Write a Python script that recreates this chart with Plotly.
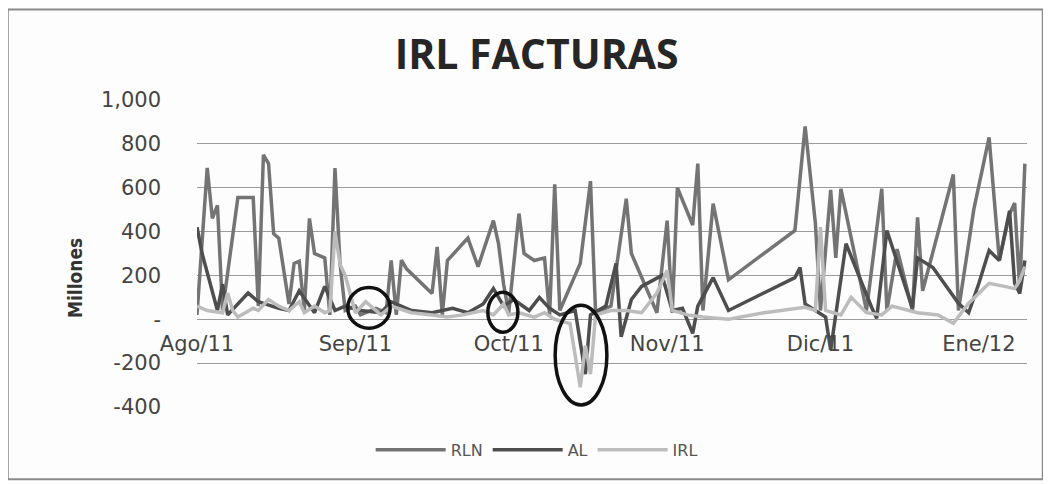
import plotly.graph_objects as go

# ---------------- data (values in millones) ----------------
rln_dates = ["2011-08-01", "2011-08-03", "2011-08-04", "2011-08-05", "2011-08-06", "2011-08-09",
             "2011-08-12", "2011-08-13", "2011-08-14", "2011-08-15", "2011-08-16", "2011-08-17",
             "2011-08-19", "2011-08-20", "2011-08-21", "2011-08-22", "2011-08-23", "2011-08-24",
             "2011-08-26", "2011-08-27", "2011-08-28", "2011-08-29", "2011-08-30", "2011-09-01",
             "2011-09-02", "2011-09-05", "2011-09-07", "2011-09-08", "2011-09-09", "2011-09-10",
             "2011-09-11", "2011-09-16", "2011-09-17", "2011-09-18", "2011-09-19", "2011-09-23",
             "2011-09-25", "2011-09-28", "2011-09-29", "2011-09-30", "2011-10-01", "2011-10-03",
             "2011-10-04", "2011-10-06", "2011-10-08", "2011-10-09", "2011-10-10", "2011-10-11",
             "2011-10-15", "2011-10-17", "2011-10-18", "2011-10-21", "2011-10-24", "2011-10-25",
             "2011-10-30", "2011-11-01", "2011-11-02", "2011-11-03", "2011-11-06", "2011-11-07",
             "2011-11-08", "2011-11-10", "2011-11-13", "2011-11-26", "2011-11-28", "2011-11-30",
             "2011-12-01", "2011-12-03", "2011-12-04", "2011-12-05", "2011-12-10", "2011-12-13",
             "2011-12-14", "2011-12-16", "2011-12-19", "2011-12-20", "2011-12-21", "2011-12-27",
             "2011-12-28", "2011-12-31", "2012-01-03", "2012-01-05", "2012-01-07", "2012-01-08",
             "2012-01-09", "2012-01-10"]
rln_values = [20, 690, 460, 520, 40, 555,
              555, 60, 750, 710, 390, 370,
              70, 255, 265, 40, 460, 300,
              280, 20, 690, 250, 40, 60,
              20, 50, 30, 268, 20, 270,
              230, 118, 330, 20, 268, 370,
              240, 450, 345, 160, 30, 482,
              300, 268, 280, 20, 615, 40,
              255, 630, 30, 60, 550, 300,
              30, 450, 30, 600, 430, 710,
              40, 527, 180, 405, 880, 440,
              40, 590, 280, 595, 40, 595,
              40, 320, 40, 465, 130, 660,
              40, 500, 830, 270, 480, 530,
              140, 710]

al_dates = ["2011-08-01", "2011-08-02", "2011-08-05", "2011-08-06", "2011-08-07", "2011-08-11",
            "2011-08-13", "2011-08-17", "2011-08-19", "2011-08-21", "2011-08-24", "2011-08-26",
            "2011-08-28", "2011-08-30", "2011-09-02", "2011-09-06", "2011-09-08", "2011-09-12",
            "2011-09-16", "2011-09-20", "2011-09-23", "2011-09-26", "2011-09-28", "2011-09-30",
            "2011-10-02", "2011-10-05", "2011-10-07", "2011-10-09", "2011-10-11", "2011-10-14",
            "2011-10-16", "2011-10-17", "2011-10-20", "2011-10-22", "2011-10-23", "2011-10-25",
            "2011-10-27", "2011-10-31", "2011-11-02", "2011-11-04", "2011-11-06", "2011-11-07",
            "2011-11-10", "2011-11-13", "2011-11-26", "2011-11-27", "2011-11-28", "2011-12-02",
            "2011-12-03", "2011-12-06", "2011-12-11", "2011-12-12", "2011-12-14", "2011-12-19",
            "2011-12-20", "2011-12-23", "2011-12-28", "2011-12-30", "2012-01-01", "2012-01-03",
            "2012-01-05", "2012-01-07", "2012-01-08", "2012-01-09", "2012-01-10"]
al_values = [420, 300, 40, 160, 20, 120,
             80, 50, 40, 130, 30, 150,
             40, 60, 40, 30, 80, 40,
             30, 50, 30, 70, 140, 60,
             90, 40, 100, 50, 20, 40,
             -250, 20, 60, 255, -80, 90,
             150, 200, 40, 50, -64, 60,
             190, 40, 190, 236, 70, 10,
             -140, 345, 55, 5, 405, 50,
             280, 236, 73, 30, 164, 314,
             268, 495, 164, 118, 268]

irl_dates = ["2011-08-01", "2011-08-03", "2011-08-06", "2011-08-07", "2011-08-08", "2011-08-09",
             "2011-08-12", "2011-08-13", "2011-08-15", "2011-08-17", "2011-08-19", "2011-08-21",
             "2011-08-22", "2011-08-24", "2011-08-26", "2011-08-27", "2011-08-28", "2011-08-29",
             "2011-08-30", "2011-08-31", "2011-09-01", "2011-09-03", "2011-09-06", "2011-09-08",
             "2011-09-12", "2011-09-16", "2011-09-19", "2011-09-22", "2011-09-26", "2011-09-28",
             "2011-09-30", "2011-10-01", "2011-10-03", "2011-10-06", "2011-10-08", "2011-10-10",
             "2011-10-13", "2011-10-15", "2011-10-16", "2011-10-17", "2011-10-18", "2011-10-21",
             "2011-10-24", "2011-10-27", "2011-10-30", "2011-11-01", "2011-11-02", "2011-11-05",
             "2011-11-08", "2011-11-13", "2011-11-20", "2011-11-28", "2011-11-30", "2011-12-01",
             "2011-12-02", "2011-12-05", "2011-12-07", "2011-12-10", "2011-12-13", "2011-12-15",
             "2011-12-20", "2011-12-24", "2011-12-27", "2011-12-30", "2012-01-01", "2012-01-03",
             "2012-01-06", "2012-01-08", "2012-01-09", "2012-01-10"]
irl_values = [60, 40, 30, 120, 40, 10,
              50, 40, 90, 60, 40, 80,
              30, 60, 30, 40, 400, 250,
              200, 120, 30, 80, 20, 60,
              30, 20, 10, 20, 40, 20,
              70, 20, 30, 10, 30, 0,
              -20, -310, -120, -250, 20, 40,
              40, 30, 120, 223, 40, 20,
              10, 0, 30, 55, 40, 420,
              40, 20, 100, 30, 20, 60,
              30, 20, -18, 73, 120, 164,
              150, 140, 177, 240]

month_ticks = ["2011-08-01", "2011-09-01", "2011-10-01", "2011-11-01", "2011-12-01", "2012-01-01"]
month_labels = ["Ago/11", "Sep/11", "Oct/11", "Nov/11", "Dic/11", "Ene/12"]
y_ticks = [-400, -200, 0, 200, 400, 600, 800, 1000]
y_labels = ["-400", "-200", "-", "200", "400", "600", "800", "1,000"]

# highlighted regions (ellipses drawn in the original)
marks_x0 = ["2011-08-30 12:00", "2011-09-26 22:00", "2011-10-10 02:00"]
marks_x1 = ["2011-09-07 19:00", "2011-10-02 19:00", "2011-10-20 05:00"]
marks_y0 = [-41, -59, -391]
marks_y1 = [145, 123, 64]

# ---------------- figure ----------------
fig = go.Figure()
fig.add_trace(go.Scatter(x=rln_dates, y=rln_values, name="RLN", mode="lines",
                         line=dict(color="#747474", width=3.5)))
fig.add_trace(go.Scatter(x=al_dates, y=al_values, name="AL", mode="lines",
                         line=dict(color="#4e4e4e", width=3.5)))
fig.add_trace(go.Scatter(x=irl_dates, y=irl_values, name="IRL", mode="lines",
                         line=dict(color="#bcbcbc", width=3.5)))

for x0, x1, y0, y1 in zip(marks_x0, marks_x1, marks_y0, marks_y1):
    fig.add_shape(type="circle", xref="x", yref="y", x0=x0, x1=x1, y0=y0, y1=y1,
                  line=dict(color="#111111", width=3.5), layer="above")

# outer frame of the chart area
fig.add_shape(type="rect", xref="paper", yref="paper",
              x0=-0.228, x1=1.019, y0=-0.235, y1=1.295,
              line=dict(color="#8a8a8a", width=2))

fig.add_annotation(text="<b>Millones</b>", xref="paper", yref="paper", x=-0.147, y=0.42,
                   xanchor="center", yanchor="middle",
                   textangle=-90, showarrow=False,
                   font=dict(family="DejaVu Sans Condensed", size=19, color="#333333"))

fig.update_layout(
    width=1051, height=484,
    margin=dict(l=189, r=32, t=92, b=85, autoexpand=False),
    paper_bgcolor="#fdfdfd", plot_bgcolor="#fdfdfd",
    title=dict(text="<b>IRL FACTURAS</b>", xref="container", yref="container",
               x=0.503, y=0.903, xanchor="center", yanchor="middle",
               font=dict(family="Open Sans", size=41, color="#262626")),
    showlegend=True,
    legend=dict(orientation="h", xref="container", yref="container",
                x=0.503, y=0.087, xanchor="center", yanchor="middle",
                font=dict(family="DejaVu Sans", size=16, color="#555555"),
                itemwidth=70, bgcolor="rgba(0,0,0,0)"),
    xaxis=dict(type="date", range=["2011-08-01", "2012-01-10 10:00"],
               tickvals=month_ticks, ticktext=month_labels,
               showgrid=False, showline=False, zeroline=False,
               anchor="free", position=400 / 1400, ticklabelstandoff=10,
               ticks="", tickfont=dict(family="DejaVu Sans", size=21, color="#444444")),
    yaxis=dict(range=[-400, 1000], tickvals=y_ticks, ticktext=y_labels,
               showgrid=True, gridcolor="#9c9c9c", gridwidth=1.3,
               zeroline=True, zerolinecolor="#9c9c9c", zerolinewidth=1.3,
               showline=False, ticks="", ticklabelstandoff=35,
               tickfont=dict(family="DejaVu Sans", size=21, color="#444444")),
)

fig.write_html("out.html")
